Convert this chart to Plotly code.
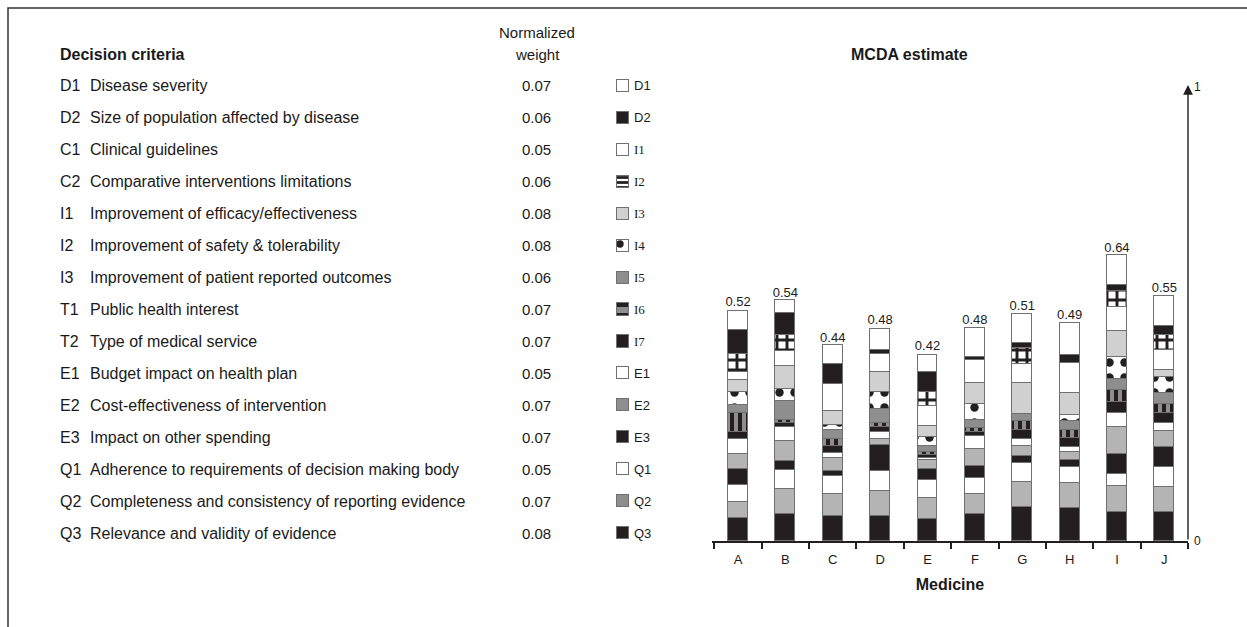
import plotly.graph_objects as go

# ---------------- data ----------------
medicines = ["A", "B", "C", "D", "E", "F", "G", "H", "I", "J"]
mcda_totals = [0.52, 0.54, 0.44, 0.48, 0.42, 0.48, 0.51, 0.49, 0.64, 0.55]

criteria_codes = ["D1", "D2", "C1", "C2", "I1", "I2", "I3", "T1", "T2",
                  "E1", "E2", "E3", "Q1", "Q2", "Q3"]
criteria_names = [
    "Disease severity",
    "Size of population affected by disease",
    "Clinical guidelines",
    "Comparative interventions limitations",
    "Improvement of efficacy/effectiveness",
    "Improvement of safety & tolerability",
    "Improvement of patient reported outcomes",
    "Public health interest",
    "Type of medical service",
    "Budget impact on health plan",
    "Cost-effectiveness of intervention",
    "Impact on other spending",
    "Adherence to requirements of decision making body",
    "Completeness and consistency of reporting evidence",
    "Relevance and validity of evidence",
]
weights = [0.07, 0.06, 0.05, 0.06, 0.08, 0.08, 0.06, 0.07, 0.07,
           0.05, 0.07, 0.07, 0.05, 0.07, 0.08]
legend_labels = ["D1", "D2", "I1", "I2", "I3", "I4", "I5", "I6", "I7",
                 "E1", "E2", "E3", "Q1", "Q2", "Q3"]

# weighted scores per medicine (segment heights)
d1 = [0.043, 0.028, 0.043, 0.047, 0.040, 0.064, 0.064, 0.070, 0.068, 0.067]
d2 = [0.052, 0.050, 0.044, 0.010, 0.043, 0.007, 0.013, 0.020, 0.013, 0.022]
i2 = [0.041, 0.037, 0.000, 0.000, 0.032, 0.000, 0.035, 0.000, 0.035, 0.032]
i1 = [0.017, 0.032, 0.061, 0.040, 0.045, 0.052, 0.042, 0.066, 0.055, 0.045]
i3 = [0.028, 0.052, 0.033, 0.045, 0.025, 0.046, 0.070, 0.049, 0.058, 0.016]
i4 = [0.030, 0.028, 0.010, 0.037, 0.019, 0.036, 0.000, 0.013, 0.049, 0.036]
i5 = [0.017, 0.041, 0.021, 0.032, 0.015, 0.019, 0.017, 0.021, 0.025, 0.024]
i6 = [0.043, 0.008, 0.015, 0.010, 0.007, 0.008, 0.020, 0.019, 0.026, 0.021]
i7 = [0.015, 0.008, 0.015, 0.010, 0.006, 0.009, 0.020, 0.020, 0.026, 0.022]
e1 = [0.035, 0.032, 0.011, 0.016, 0.004, 0.030, 0.016, 0.010, 0.030, 0.018]
e2 = [0.032, 0.045, 0.031, 0.013, 0.021, 0.037, 0.022, 0.019, 0.060, 0.037]
e3 = [0.037, 0.019, 0.011, 0.060, 0.024, 0.028, 0.015, 0.015, 0.046, 0.045]
q1 = [0.037, 0.043, 0.040, 0.045, 0.041, 0.036, 0.043, 0.037, 0.026, 0.043]
q2 = [0.037, 0.057, 0.050, 0.056, 0.047, 0.044, 0.055, 0.054, 0.058, 0.056]
q3 = [0.051, 0.060, 0.055, 0.055, 0.049, 0.061, 0.077, 0.075, 0.066, 0.066]

segments = {"D1": d1, "D2": d2, "I1": i1, "I2": i2, "I3": i3, "I4": i4,
            "I5": i5, "I6": i6, "I7": i7, "E1": e1, "E2": e2, "E3": e3,
            "Q1": q1, "Q2": q2, "Q3": q3}
# stacking order, bottom to top
stack_order = ["Q3", "Q2", "Q1", "E3", "E2", "E1", "I7", "I6", "I5",
               "I4", "I3", "I1", "I2", "D2", "D1"]

# ---------------- styles ----------------
BLACK = "#231f20"
WHITE = "#ffffff"
LGREY = "#d0d0d0"
MGREY = "#b4b4b4"
DGREY = "#8e8e8e"
EDGE = "#707070"
TXT = "#1a1a1a"
FONT = "Liberation Sans, Arial, sans-serif"
SERIF = "Liberation Serif, Times New Roman, serif"

style = {
    "D1": dict(color=WHITE, shape=""),
    "D2": dict(color=BLACK, shape=""),
    "I1": dict(color=WHITE, shape=""),
    "I2": dict(color=WHITE, shape="+", fg=BLACK, size=10, sol=0.5),
    "I3": dict(color=LGREY, shape=""),
    "I4": dict(color=WHITE, shape=".", fg=BLACK, size=15, sol=0.25),
    "I5": dict(color=DGREY, shape=""),
    "I6": dict(color=DGREY, shape="|", fg=BLACK, size=8, sol=0.5),
    "I7": dict(color=BLACK, shape=""),
    "E1": dict(color=WHITE, shape=""),
    "E2": dict(color=MGREY, shape=""),
    "E3": dict(color=BLACK, shape=""),
    "Q1": dict(color=WHITE, shape=""),
    "Q2": dict(color=MGREY, shape=""),
    "Q3": dict(color=BLACK, shape=""),
}
# swatch look in the key column
swatch = {
    "I2": dict(color=WHITE, shape="-", fg=BLACK, size=5, sol=0.55),
    "I4": dict(color=WHITE, shape=".", fg=BLACK, size=12, sol=0.3),
    "I6": dict(color=DGREY, shape="-", fg=BLACK, size=12, sol=0.5),
    "E2": dict(color=DGREY, shape=""),
    "Q2": dict(color=DGREY, shape=""),
}

W, H = 1247, 627


def px_x(p):
    return p / W


def px_y(p):
    return 1 - p / H


def make_pattern(s):
    p = dict(shape=s["shape"])
    if s["shape"]:
        p.update(fgcolor=s["fg"], bgcolor=s["color"], size=s["size"],
                 solidity=s["sol"], fillmode="replace")
    return p


fig = go.Figure()

# ---------------- stacked MCDA bars ----------------
for key in stack_order:
    s = style[key]
    fig.add_trace(go.Bar(
        x=medicines, y=segments[key], name=key,
        marker=dict(color=s["color"], pattern=make_pattern(s),
                    line=dict(color=EDGE, width=1.4)),
        width=0.42, xaxis="x", yaxis="y", hoverinfo="x+y+name",
    ))

fig.add_trace(go.Scatter(
    x=medicines, y=mcda_totals, mode="text",
    text=[f"{v:.2f}" for v in mcda_totals], textposition="top center",
    textfont=dict(family=FONT, size=13, color=TXT),
    xaxis="x", yaxis="y", hoverinfo="skip", cliponaxis=False,
))

# ---------------- key swatches (one small bar per criterion) ----------------
for r, lab in enumerate(legend_labels):
    s = swatch.get(lab, style[lab])
    fig.add_trace(go.Bar(
        x=[1], y=[r], orientation="h", width=0.38, name=lab,
        marker=dict(color=s["color"], pattern=make_pattern(s),
                    line=dict(color=EDGE, width=1.4)),
        xaxis="x2", yaxis="y2", hoverinfo="skip",
    ))

# ---------------- layout ----------------
annotations = []
TS = 16
annotations.append(dict(x=px_x(58), y=px_y(54), xref="paper", yref="paper",
                        text="<b>Decision criteria</b>", showarrow=False,
                        xanchor="left", yanchor="middle",
                        font=dict(family=FONT, size=TS, color=TXT)))
annotations.append(dict(x=px_x(537), y=px_y(33), xref="paper", yref="paper",
                        text="Normalized", showarrow=False,
                        xanchor="center", yanchor="middle",
                        font=dict(family=FONT, size=15, color=TXT)))
annotations.append(dict(x=px_x(537), y=px_y(54), xref="paper", yref="paper",
                        text="weight", showarrow=False,
                        xanchor="center", yanchor="middle",
                        font=dict(family=FONT, size=15, color=TXT)))
for r, (code, name, w, lab) in enumerate(zip(criteria_codes, criteria_names,
                                              weights, legend_labels)):
    annotations.append(dict(x=px_x(58), y=r, xref="paper", yref="y2",
                            text=code, showarrow=False, xanchor="left",
                            yanchor="middle",
                            font=dict(family=FONT, size=TS, color=TXT)))
    annotations.append(dict(x=px_x(88), y=r, xref="paper", yref="y2",
                            text=name, showarrow=False, xanchor="left",
                            yanchor="middle",
                            font=dict(family=FONT, size=TS, color=TXT)))
    annotations.append(dict(x=px_x(536), y=r, xref="paper", yref="y2",
                            text=f"{w:.2f}", showarrow=False,
                            xanchor="center", yanchor="middle",
                            font=dict(family=FONT, size=15, color=TXT)))
    fam = SERIF if lab.startswith("I") else FONT
    annotations.append(dict(x=px_x(632), y=r, xref="paper", yref="y2",
                            text=lab, showarrow=False, xanchor="left",
                            yanchor="middle",
                            font=dict(family=fam, size=13, color=TXT)))

annotations.append(dict(x=px_x(909), y=px_y(54), xref="paper", yref="paper",
                        text="<b>MCDA estimate</b>", showarrow=False,
                        xanchor="center", yanchor="middle",
                        font=dict(family=FONT, size=16, color=TXT)))

Y_TOP = (541 - 85) / 446.0
X_RIGHT = 9.5
annotations.append(dict(x=X_RIGHT, y=Y_TOP, xref="x", yref="y",
                        ax=X_RIGHT, ay=0, axref="x", ayref="y",
                        text="", showarrow=True, arrowhead=2, arrowsize=1.4,
                        arrowwidth=1.4, arrowcolor=BLACK))
annotations.append(dict(x=X_RIGHT, y=Y_TOP, xref="x", yref="y", text="1",
                        showarrow=False, xanchor="left", yanchor="middle",
                        xshift=4, yshift=-2,
                        font=dict(family=FONT, size=12, color=TXT)))
annotations.append(dict(x=X_RIGHT, y=0, xref="x", yref="y", text="0",
                        showarrow=False, xanchor="left", yanchor="middle",
                        xshift=4,
                        font=dict(family=FONT, size=12, color=TXT)))

shapes = [dict(type="rect", xref="paper", yref="paper",
               x0=px_x(8), x1=px_x(W + 20), y0=px_y(H + 20), y1=px_y(8),
               line=dict(color="#333333", width=1.5))]

fig.update_layout(
    width=W, height=H,
    margin=dict(l=0, r=0, t=0, b=0),
    paper_bgcolor="white", plot_bgcolor="white",
    barmode="stack", bargap=0, showlegend=False,
    font=dict(family=FONT, color=TXT),
    xaxis=dict(
        domain=[px_x(712), px_x(1188)], type="category",
        range=[-0.55, X_RIGHT], showline=True, linecolor=BLACK, linewidth=1.5,
        ticks="outside", tickson="boundaries", ticklen=6, tickwidth=1.5,
        tickcolor=BLACK, showgrid=False, zeroline=False,
        ticklabelstandoff=6,
        tickfont=dict(family=FONT, size=13, color=TXT),
        title=dict(text="<b>Medicine</b>", standoff=12,
                   font=dict(family=FONT, size=16, color=TXT)),
        fixedrange=True,
    ),
    yaxis=dict(
        domain=[px_y(541), px_y(85)], range=[0, Y_TOP], visible=False,
        fixedrange=True,
    ),
    xaxis2=dict(domain=[px_x(614), px_x(632)], range=[-0.25, 1.25],
                visible=False, fixedrange=True),
    yaxis2=dict(domain=[px_y(549), px_y(70)], range=[14.5, -0.5],
                visible=False, anchor="x2", fixedrange=True),
    annotations=annotations,
    shapes=shapes,
)

fig.write_html("out.html",
               config={"displayModeBar": False},
               post_script="document.body.style.margin='0px';"
                           "document.body.style.overflow='hidden';")
